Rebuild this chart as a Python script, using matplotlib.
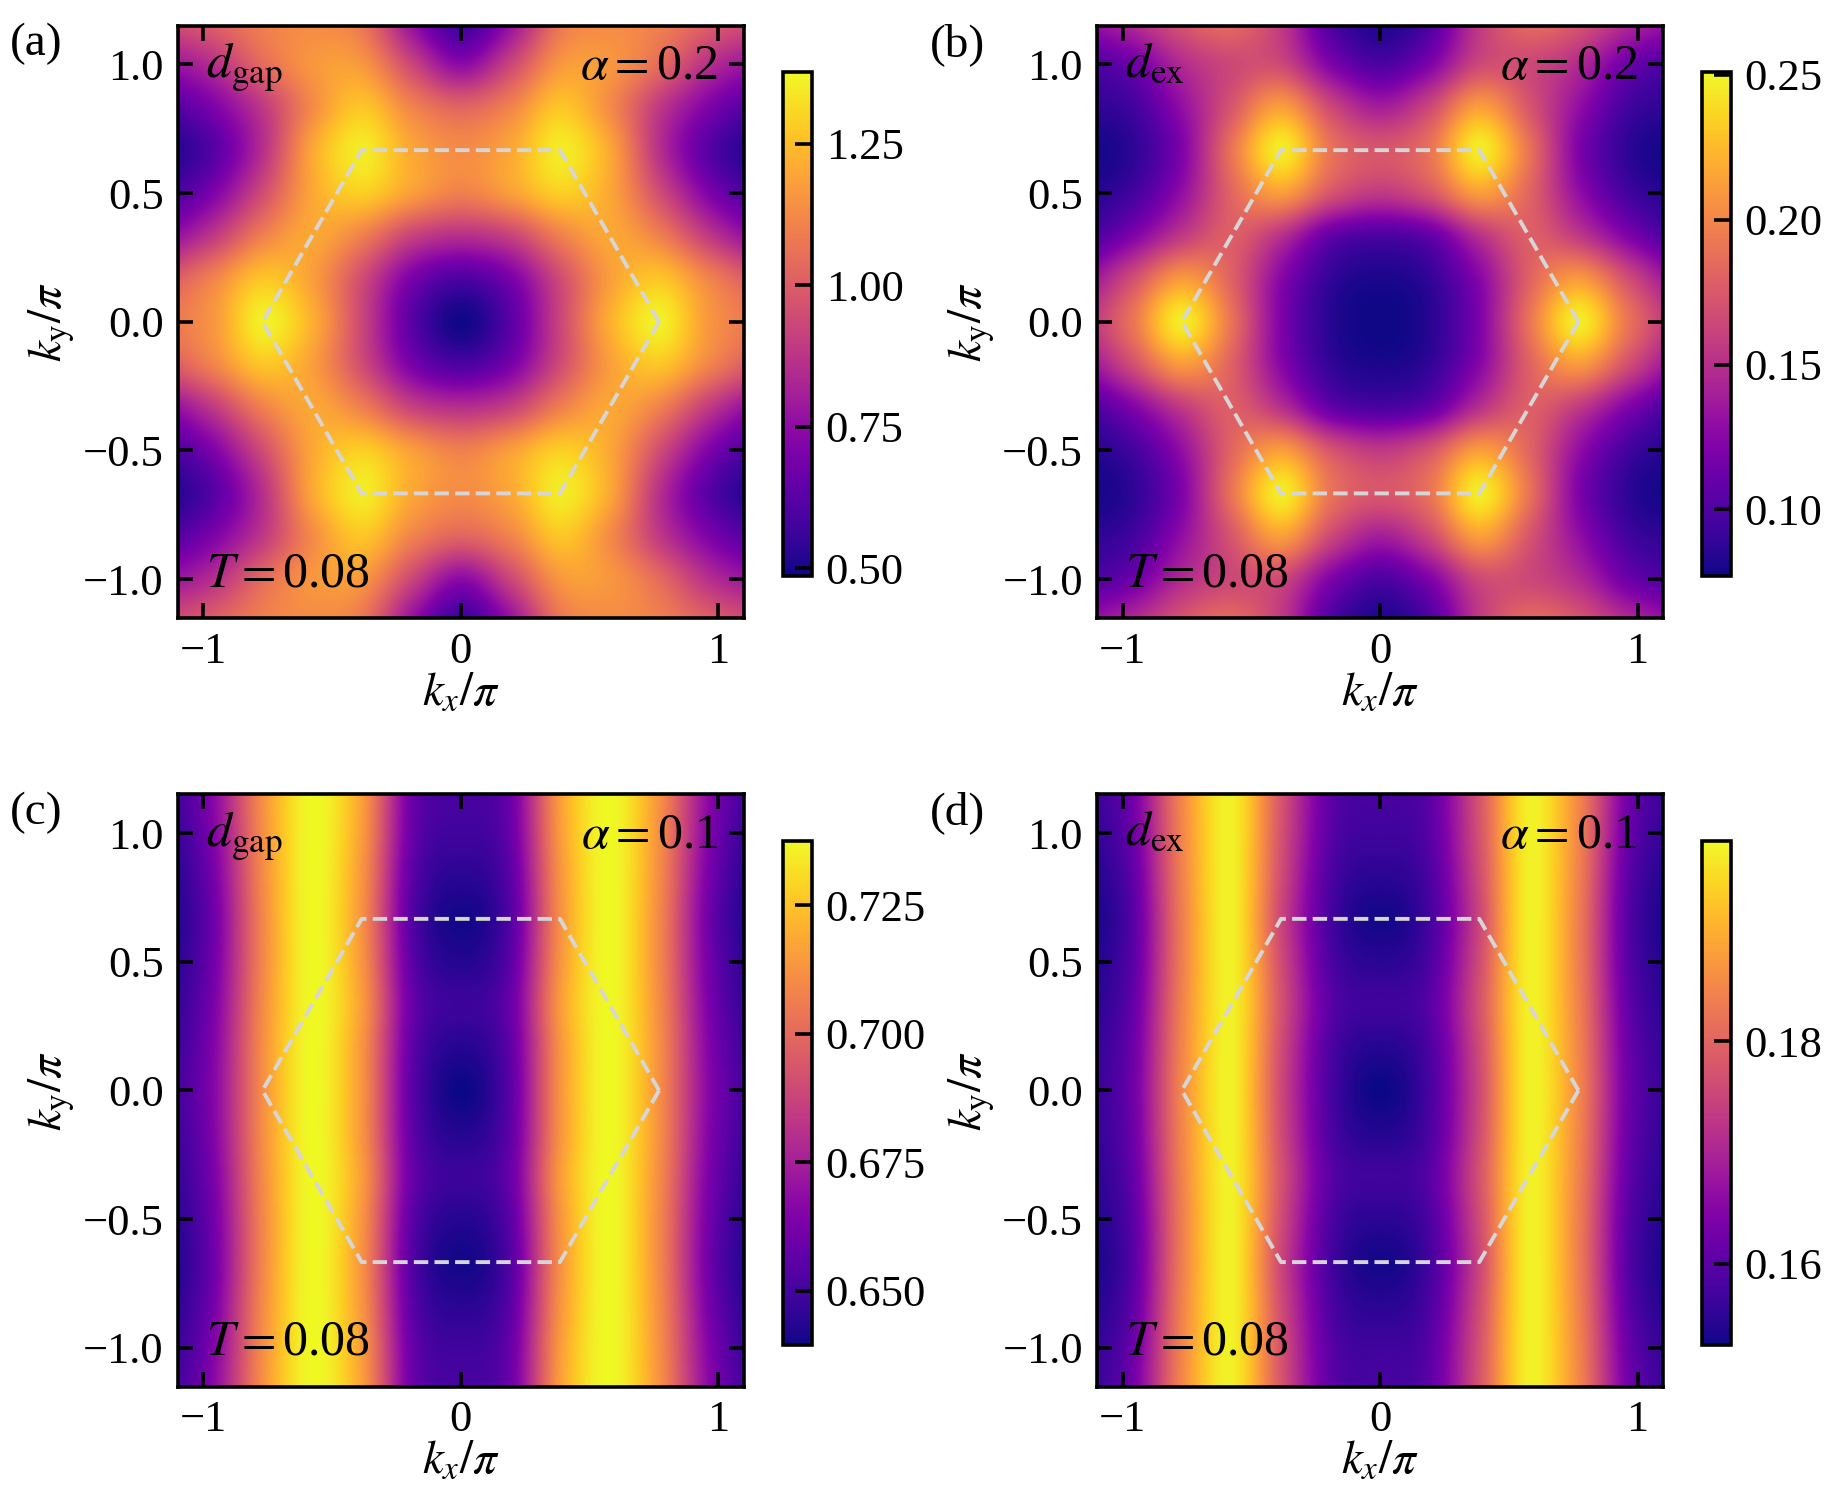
import numpy as np
import matplotlib
matplotlib.use("Agg")
import matplotlib.pyplot as plt

plt.rcParams['font.family'] = 'serif'
plt.rcParams['font.serif'] = ['Liberation Serif', 'DejaVu Serif']
plt.rcParams['mathtext.fontset'] = 'stix'
plt.rcParams['font.size'] = 16

# grid nodes of one quadrant (kx >= 0, ky >= 0), in units of pi
kx_nodes = [0.0, 0.1925, 0.385, 0.5775, 0.77, 0.9625, 1.155]
ky_nodes = [0.0, 0.1667, 0.3333, 0.5, 0.6667, 0.8333, 1.0, 1.1667]

# values, rows = ky_nodes, columns = kx_nodes
d_gap_a02 = [
    [0.49, 0.63, 0.93, 1.22, 1.36, 1.16, 1.07],
    [0.60, 0.70, 0.95, 1.18, 1.27, 1.11, 0.98],
    [0.86, 0.92, 1.10, 1.20, 1.10, 0.89, 0.74],
    [1.10, 1.18, 1.29, 1.20, 0.95, 0.71, 0.58],
    [1.13, 1.20, 1.35, 1.20, 0.86, 0.62, 0.51],
    [1.02, 1.11, 1.27, 1.13, 0.89, 0.71, 0.60],
    [0.74, 0.93, 1.16, 1.16, 1.04, 0.86, 0.77],
    [0.56, 0.76, 1.07, 1.13, 1.10, 1.01, 0.94],
]
d_ex_a02 = [
    [0.078, 0.085, 0.121, 0.190, 0.246, 0.190, 0.151],
    [0.081, 0.089, 0.125, 0.180, 0.210, 0.168, 0.130],
    [0.099, 0.109, 0.151, 0.178, 0.156, 0.121, 0.095],
    [0.156, 0.173, 0.212, 0.182, 0.130, 0.095, 0.083],
    [0.173, 0.190, 0.246, 0.190, 0.121, 0.087, 0.078],
    [0.139, 0.165, 0.212, 0.173, 0.130, 0.095, 0.087],
    [0.099, 0.121, 0.165, 0.165, 0.147, 0.113, 0.099],
    [0.081, 0.099, 0.156, 0.185, 0.173, 0.147, 0.130],
]
d_gap_a01 = [
    [0.6394, 0.6561, 0.7130, 0.7376, 0.7111, 0.6659, 0.6473],
    [0.6433, 0.6571, 0.7130, 0.7376, 0.7111, 0.6649, 0.6453],
    [0.6482, 0.6590, 0.7150, 0.7376, 0.7101, 0.6630, 0.6433],
    [0.6433, 0.6561, 0.7130, 0.7376, 0.7091, 0.6610, 0.6414],
    [0.6404, 0.6541, 0.7120, 0.7376, 0.7091, 0.6600, 0.6394],
    [0.6443, 0.6561, 0.7130, 0.7376, 0.7101, 0.6620, 0.6414],
    [0.6492, 0.6590, 0.7150, 0.7376, 0.7111, 0.6649, 0.6443],
    [0.6512, 0.6600, 0.7160, 0.7376, 0.7120, 0.6669, 0.6473],
]
d_ex_a01 = [
    [0.1527, 0.1581, 0.1758, 0.1971, 0.1849, 0.1622, 0.1554],
    [0.1545, 0.1586, 0.1763, 0.1971, 0.1845, 0.1618, 0.1550],
    [0.1572, 0.1599, 0.1772, 0.1971, 0.1840, 0.1609, 0.1541],
    [0.1550, 0.1586, 0.1763, 0.1971, 0.1835, 0.1599, 0.1536],
    [0.1532, 0.1577, 0.1753, 0.1971, 0.1835, 0.1595, 0.1527],
    [0.1550, 0.1586, 0.1763, 0.1971, 0.1840, 0.1604, 0.1536],
    [0.1572, 0.1599, 0.1772, 0.1971, 0.1845, 0.1618, 0.1550],
    [0.1581, 0.1604, 0.1776, 0.1971, 0.1849, 0.1627, 0.1559],
]

panels = [
    dict(tag='(a)', data=d_gap_a02, name=r'$d_{\mathrm{gap}}$', alpha='0.2',
         lims=(0.486, 1.378), ticks=[0.50, 0.75, 1.00, 1.25], fmt='%.2f'),
    dict(tag='(b)', data=d_ex_a02, name=r'$d_{\mathrm{ex}}$', alpha='0.2',
         lims=(0.077, 0.2511), ticks=[0.10, 0.15, 0.20, 0.25], fmt='%.2f'),
    dict(tag='(c)', data=d_gap_a01, name=r'$d_{\mathrm{gap}}$', alpha='0.1',
         lims=(0.6394, 0.7376), ticks=[0.650, 0.675, 0.700, 0.725], fmt='%.3f'),
    dict(tag='(d)', data=d_ex_a01, name=r'$d_{\mathrm{ex}}$', alpha='0.1',
         lims=(0.1527, 0.198), ticks=[0.16, 0.18], fmt='%.2f'),
]

# Brillouin zone
hex_x = [0.77, 0.385, -0.385, -0.77, -0.385, 0.385, 0.77]
hex_y = [0.0, 0.6667, 0.6667, 0.0, -0.6667, -0.6667, 0.0]

ax_pos = [(0.0966, 0.5873), (0.5968, 0.5873), (0.0966, 0.0738), (0.5968, 0.0738)]
cb_pos = [(0.4262, 0.6152), (0.9262, 0.6152), (0.4262, 0.1015), (0.9262, 0.1015)]
AX_W, AX_H = 0.3082, 0.3955
CB_W, CB_H = 0.0155, 0.337

fig = plt.figure(figsize=(9.19, 7.485), dpi=200)

kx = np.array(kx_nodes)
ky = np.array(ky_nodes)
dx = kx[1] - kx[0]
dy = ky[1] - ky[0]

for p, (x0, y0), (cx, cy) in zip(panels, ax_pos, cb_pos):
    q = np.array(p['data'])
    # quadrant mirrored to the full zone (picture is symmetric in kx and ky)
    full = np.hstack([q[:, :0:-1], q])
    full = np.vstack([full[:0:-1, :], full])

    ax = fig.add_axes([x0, y0, AX_W, AX_H])
    im = ax.imshow(full, origin='lower', cmap='plasma', interpolation='catrom',
                   vmin=p['lims'][0], vmax=p['lims'][1], aspect='auto',
                   extent=[-kx[-1] - dx / 2, kx[-1] + dx / 2,
                           -ky[-1] - dy / 2, ky[-1] + dy / 2])
    ax.plot(hex_x, hex_y, ls='--', color='#d6d6d6', lw=1.4)
    ax.set_xlim(-1.1, 1.1)
    ax.set_ylim(-1.15, 1.15)
    ax.set_xticks([-1, 0, 1])
    ax.set_xticklabels(['\u22121', '0', '1'])
    ax.set_yticks([-1.0, -0.5, 0.0, 0.5, 1.0])
    ax.set_yticklabels(['\u22121.0', '\u22120.5', '0.0', '0.5', '1.0'])
    ax.tick_params(direction='in', top=True, right=True, length=5.5, width=1.3,
                   labelsize=16, pad=5)
    for s in ax.spines.values():
        s.set_linewidth(1.3)
    ax.set_xlabel(r'$k_x/\pi$', fontsize=17, labelpad=0)
    ax.set_ylabel(r'$k_{\mathrm{y}}/\pi$', fontsize=17, labelpad=2)

    ax.text(0.05, 0.975, p['name'], transform=ax.transAxes, ha='left', va='top', fontsize=18)
    ax.text(0.955, 0.97, r'$\alpha=$' + p['alpha'], transform=ax.transAxes,
            ha='right', va='top', fontsize=18)
    ax.text(0.05, 0.035, r'$T=$0.08', transform=ax.transAxes, ha='left', va='bottom', fontsize=18)
    fig.text(x0 - 0.091, y0 + AX_H + 0.002, p['tag'], ha='left', va='top', fontsize=17)

    cax = fig.add_axes([cx, cy, CB_W, CB_H])
    cb = fig.colorbar(im, cax=cax, ticks=p['ticks'], format=p['fmt'])
    cb.outline.set_linewidth(1.3)
    cax.tick_params(direction='in', length=6, width=1.3, labelsize=16, pad=5)

fig.savefig('out.png', dpi=200)
